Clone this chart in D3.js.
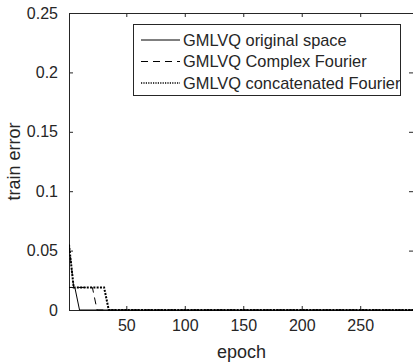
<!DOCTYPE html>
<html>
<head>
<meta charset="utf-8">
<script src="https://cdn.jsdelivr.net/npm/d3@7"></script>
<style>
html,body{margin:0;padding:0;background:#fff;overflow:hidden;}
svg{display:block;}
text{font-family:"Liberation Sans",Arial,Helvetica,sans-serif;fill:#262626;}
</style>
</head>
<body>
<svg id="chart" width="413" height="364"></svg>
<script>
// ---- data ----
const xTicks = [50, 100, 150, 200, 250];
const yTicks = [0, 0.05, 0.1, 0.15, 0.2, 0.25];
const yTickLabels = ["0", "0.05", "0.1", "0.15", "0.2", "0.25"];
const seriesNames = ["GMLVQ original space", "GMLVQ Complex Fourier", "GMLVQ concatenated Fourier"];
const origEpochs = [1, 6, 10, 300];
const origError = [0.019, 0.019, 0, 0];
const complexEpochs = [1, 5, 21, 25, 300];
const complexError = [0.055, 0.019, 0.019, 0, 0];
const concatEpochs = [1, 5, 31, 35, 300];
const concatError = [0.055, 0.019, 0.019, 0, 0];
const xLabel = "epoch";
const yLabel = "train error";

// ---- layout ----
const svg = d3.select("#chart");
const L = 69, R = 414, T = 13, B = 310;
const x = d3.scaleLinear().domain([1, 296]).range([L, R]);
const y = d3.scaleLinear().domain([0, 0.25]).range([B, T]);
const axisColor = "#262626";
const tickLen = 4;

const clipId = "plotclip";
svg.append("defs").append("clipPath").attr("id", clipId)
  .append("rect").attr("x", L).attr("y", T - 2).attr("width", R - L).attr("height", B - T + 4);

// lines
const series = [
  {name: seriesNames[0], xs: origEpochs, ys: origError, dash: null, w: 1},
  {name: seriesNames[1], xs: complexEpochs, ys: complexError, dash: "7,5", w: 1},
  {name: seriesNames[2], xs: concatEpochs, ys: concatError, dash: "2,1.3", w: 2}
];
const line = d3.line().x(d => x(d[0])).y(d => y(d[1]));
const gLines = svg.append("g").attr("clip-path", `url(#${clipId})`);

// axes (box with inward ticks)
const gx = svg.append("g").attr("transform", `translate(0,${B})`)
  .call(d3.axisBottom(x).tickValues(xTicks).tickSizeInner(-tickLen).tickSizeOuter(0).tickPadding(10).tickFormat(d3.format("d")));
const gxt = svg.append("g").attr("transform", `translate(0,${T})`)
  .call(d3.axisTop(x).tickValues(xTicks).tickSizeInner(-tickLen).tickSizeOuter(0).tickFormat(""));
const gy = svg.append("g").attr("transform", `translate(${L},0)`)
  .call(d3.axisLeft(y).tickValues(yTicks).tickSizeInner(-tickLen).tickSizeOuter(0).tickPadding(11)
    .tickFormat((d, i) => yTickLabels[i]));
const gyr = svg.append("g").attr("transform", `translate(${R - 1},0)`)
  .call(d3.axisRight(y).tickValues(yTicks).tickSizeInner(-tickLen).tickSizeOuter(0).tickFormat(""));
[gx, gxt, gy, gyr].forEach(g => {
  g.select(".domain").attr("stroke", axisColor);
  g.selectAll(".tick line").attr("stroke", axisColor);
  g.selectAll("text").attr("font-size", 16).attr("fill", axisColor)
    .style("font-family", "'Liberation Sans',Arial,sans-serif");
});

series.forEach(s => {
  const pts = s.xs.map((v, i) => [v, s.ys[i]]);
  gLines.append("path").attr("d", line(pts))
    .attr("fill", "none").attr("stroke", "#000").attr("stroke-width", s.w)
    .attr("stroke-dasharray", s.dash);
});
gLines.raise();

// axis labels
svg.append("text").attr("x", (L + R) / 2).attr("y", 358)
  .attr("text-anchor", "middle").attr("font-size", 18).text(xLabel);
svg.append("text").attr("transform", `translate(20,${(T + B) / 2}) rotate(-90)`)
  .attr("text-anchor", "middle").attr("font-size", 18).text(yLabel);

// legend
const lg = svg.append("g");
lg.append("rect").attr("x", 133.5).attr("y", 24.5).attr("width", 267).attr("height", 71)
  .attr("fill", "#fff").attr("stroke", axisColor).attr("stroke-width", 1);
series.forEach((s, i) => {
  const yy = 40 + i * 21.5;
  lg.append("line").attr("x1", 141).attr("x2", 180).attr("y1", yy).attr("y2", yy)
    .attr("stroke", "#000").attr("stroke-width", i === 2 ? 1.5 : 1)
    .attr("stroke-dasharray", i === 2 ? "1.2,1.2" : s.dash);
  lg.append("text").attr("x", 183).attr("y", yy + 5.5).attr("font-size", 16.4).text(s.name);
});
</script>
</body>
</html>
